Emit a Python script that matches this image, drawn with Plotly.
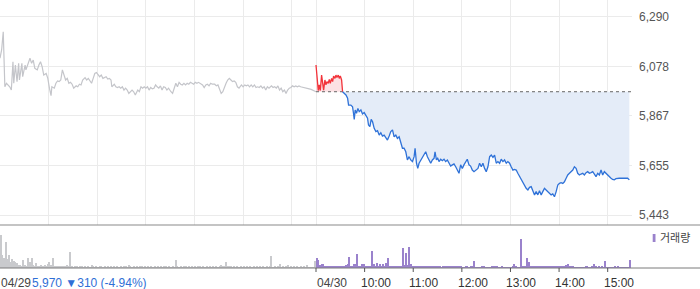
import numpy as np
import plotly.graph_objects as go

# ---------------- data ----------------
PREV_CLOSE = 5970
Y_TICK_VALS = [5443, 5655, 5867, 6078, 6290]
Y_TICK_TEXT = ["5,443", "5,655", "5,867", "6,078", "6,290"]
HOUR_LABELS = ["10:00", "11:00", "12:00", "13:00", "14:00", "15:00"]
DATE_LABELS = ["04/29", "04/30"]
SUMMARY = "5,970 \u25bc310 (-4.94%)"
LEGEND_TEXT = "거래량"

# 04/29 intraday (minutes after 09:00, price)
d1_min = [0, 2, 4, 6, 8, 10, 12, 14, 16, 17, 19, 21, 23, 24, 27, 28, 31, 32, 35, 37,
          39, 41, 43, 46, 48, 50, 52, 54, 57, 59, 61, 63, 64, 67, 69, 71, 73, 75, 77, 79,
          81, 83, 85, 87, 89, 91, 94, 96, 98, 100, 102, 105, 107, 109, 111, 113, 115, 117, 119, 121,
          123, 125, 127, 131, 133, 135,
          137, 138, 141, 143, 145, 147, 149, 151, 153, 155, 157, 159, 161, 163, 165, 167, 170, 172,
          174, 176, 178, 180, 182, 184, 186, 188, 190, 192, 194, 196, 198, 200, 202, 204, 206, 208,
          211, 213, 215, 217, 219, 221, 223, 225, 227, 229, 231, 233, 235, 237, 239, 241, 243, 245,
          247, 250, 252, 254, 256, 258, 260, 262,
          265, 267, 269, 271, 273, 275, 277, 279, 281, 283, 285, 287, 289, 291, 293, 295, 298, 300,
          302, 304, 306, 308, 310, 312, 314, 316, 318, 320, 322, 324, 326, 328, 330, 332, 335, 337,
          339, 341, 343, 345, 347, 349, 351, 353, 355, 357, 359, 361, 363, 365, 367, 369, 371, 374,
          376, 378, 380, 382, 384, 390]
d1_price = [6113, 6148, 6226, 5991, 6006, 5999, 5991, 5977, 6098, 6006, 6084, 6013, 6091, 6020, 6091, 6034, 6084, 6063, 6091, 6113,
            6091, 6105, 6070, 6063, 6084, 6098, 6077, 6041, 6048, 6027, 5985, 5953, 5991, 5985, 6006, 6016, 6013, 6020, 6063, 6041,
            6020, 6027, 6006, 6010, 6002, 5985, 5995, 5991, 6002, 5999, 6020, 6030, 6020, 6027, 6013, 6006, 6027, 6048, 6052, 6045,
            6034, 6041, 6027, 6034, 6024, 6027,
            6020, 5991, 6002, 5991, 5988, 5991, 5985, 5991, 5977, 5985, 5977, 5963, 5970, 5977, 5970, 5956, 5977, 5970,
            5991, 5985, 5991, 5985, 5991, 5977, 5988, 5982, 5985, 5999, 5991, 5985, 5995, 5977, 5991, 5988, 5977, 5985,
            5970, 5963, 5985, 6006, 5991, 6010, 6002, 5999, 6006, 5999, 6006, 6002, 6010, 6006, 6002, 6010, 6006, 6010,
            6006, 5999, 5988, 5999, 6002, 5995, 6006, 6002,
            6002, 5995, 5999, 5977, 5963, 5970, 5991, 6006, 6020, 6027, 6020, 6013, 6016, 6010, 5991, 5985, 5999, 5991,
            5999, 5995, 5999, 5991, 5999, 5991, 5999, 5988, 5991, 5988, 5995, 5985, 5991, 5977, 5991, 5985, 5995, 5988,
            5991, 5985, 5995, 5977, 5985, 5970, 5977, 5963, 5977, 5985, 5988, 5995, 5991, 5995, 5991, 5995, 5991, 5988,
            5985, 5985, 5982, 5982, 5980, 5970]

# 04/30 intraday (minutes after 09:00, price)
d2_min = [0, 0.8, 2.8, 4, 5.3, 6.9, 8.2, 9.4, 11, 12.3, 13.5, 15.1, 16.4, 17.6, 19.3, 20.5, 21.7, 23.4, 24.6, 25.8,
          27.5, 28.7, 30, 31.6, 32.8, 34.9, 37, 39, 40.2, 43, 45.1, 46.3, 47.2, 48.4, 50, 51.7, 53.3, 55.4, 57.4, 59.5,
          61.5, 63.6, 64.8, 66.5, 68.1, 69.8, 71.8, 73.9, 75.9, 78, 80, 82, 84.1, 86.2, 88.2, 90.3, 92.3, 94.4, 96.4, 98.5,
          100.5, 102.6, 104.6, 106.7, 108.7, 110.8, 112.8, 114.9, 116.9, 119, 121.1, 122.3, 124, 125.6, 127.2, 129.3,
          131.3, 133.4, 135.4, 137.5, 139.5, 141.6, 143.6, 145.7, 146.9, 148.6, 150.2, 151.8, 153.9, 155.9, 158, 160,
          162.1, 164.2, 166.2, 168.3, 170.3, 172.4, 174.4, 176.5, 178.5, 180.6, 182.6, 184.7, 186.7, 188.8, 190.8,
          192.9, 195, 199.9, 201.9, 204, 206, 208.1, 210.1, 212.2, 214.3, 216.3, 218.4, 220.4, 222.5, 224.5, 226.6,
          228.6, 230.7, 232.7, 234.8, 236.8, 238.9, 240.9, 243, 245, 247.1, 249.1, 251.2, 253.2, 255.3, 257.4, 259.4,
          261.5, 263.5, 265.6, 267.6, 269.7, 271.7, 273.8, 275.8, 277.9, 279.9, 282, 284, 286.1, 288.1, 290.2, 292.2,
          294.3, 296.4, 298.4, 300.5, 302.5, 304.6, 306.6, 308.7, 310.7, 312.8, 314.8, 316.9, 318.9, 321, 323, 325.1,
          327.1, 329.2, 331.2, 333.3, 335.3, 337.4, 339.5, 341.5, 343.6, 345.6, 347.7, 349.7, 351.8, 353.8, 355.9,
          357.9, 360, 362, 364.1, 366.1, 368.2, 370.2, 372.3, 374.3, 376.4, 378.5, 380.5, 382.6, 384.6, 386.7]
d2_price = [6084, 6041, 5975, 5999, 5975, 6041, 5992, 5977, 6020, 5999, 6013, 6006, 6023, 6006, 6027, 6013, 6037, 6027, 6041, 6031,
            6041, 6027, 6037, 6020, 5970, 5963, 5956, 5942, 5913, 5913, 5906, 5878, 5852, 5892, 5878, 5899, 5885, 5892, 5875, 5881,
            5871, 5857, 5828, 5821, 5852, 5842, 5814, 5800, 5804, 5785, 5795, 5781, 5785, 5771, 5764, 5781, 5800, 5807, 5778, 5785,
            5771, 5778, 5757, 5729, 5729, 5714, 5679, 5693, 5679, 5672, 5693, 5729, 5665, 5643, 5665, 5679,
            5690, 5700, 5714, 5693, 5679, 5665, 5679, 5686, 5714, 5679, 5686, 5672, 5682, 5676, 5682, 5672,
            5679, 5665, 5653, 5658, 5662, 5650, 5636, 5622, 5658, 5643, 5658, 5672, 5682, 5658, 5653,
            5636, 5629, 5643, 5665, 5650, 5665, 5643, 5629, 5650, 5693, 5700, 5690, 5700, 5665, 5672, 5665,
            5682, 5672, 5679, 5665, 5672, 5665, 5650, 5636, 5639, 5636, 5622, 5608, 5601, 5586, 5572, 5558,
            5551, 5562, 5565, 5548, 5530, 5544, 5530, 5548, 5530, 5544, 5558, 5551, 5544, 5537, 5530, 5534,
            5522, 5544, 5572, 5579, 5582, 5579, 5586, 5601, 5615, 5622, 5629, 5636, 5650, 5643, 5622, 5615,
            5619, 5622, 5615, 5625, 5629, 5622, 5625, 5629, 5619, 5608, 5622, 5615, 5636, 5615, 5629,
            5622, 5611, 5608, 5601, 5596, 5594, 5599, 5601, 5601, 5601, 5601, 5601, 5601, 5601, 5594]

# volume per 2-minute bucket (thousand shares)
vol1 = [36.7, 15, 11.7, 29, 10, 15, 6.7, 10, 8, 7, 6, 3, 3, 2.5, 9, 3, 2.5, 10.7, 7, 10.7,
        3, 2, 5.7, 2, 1.5, 3, 2, 3, 2, 4, 6.7, 3, 11.7, 2.5, 1.5, 2.5, 1.5, 2, 2, 2.5,
        2, 3, 2.5, 18.3, 1.5, 1, 2, 1.5, 1, 2.5, 1.5, 1, 1.5, 1, 1.5, 1, 3, 2.5, 1, 1.5,
        1, 1.5, 2, 1, 1.5, 1, 1.5, 1, 2, 1, 1.5, 1, 1.5, 1, 1.5, 1, 1.5, 2, 1, 3,
        1.5, 1, 1.5, 1, 1.5, 1, 1.5, 2, 1, 1.5, 1, 1.5, 1, 1.5, 1, 2.5, 1, 1.5, 1, 1.5,
        1, 1.5, 2, 1, 1.5, 1, 1.5, 1, 9, 1.5, 1, 1.5, 1, 2, 1.5, 1, 1.5, 1, 1.5, 1,
        1.5, 1, 1.5, 2, 1, 1.5, 1, 1.5, 1, 1.5, 1, 1.5, 1, 1.5, 1, 2, 3, 1.5, 2, 6.7,
        1.5, 2, 2.5, 1, 1.5, 1, 2, 1, 1.5, 1, 1.5, 1, 1.5, 1, 2, 1, 1.5, 1, 1.5, 1,
        1.5, 1, 1.5, 1, 1.5, 1, 1.5, 13.3, 1, 1.5, 1, 1.5, 5, 1, 1.5, 1, 1.5, 3, 1, 1.5,
        1, 1.5, 1, 1.5, 1, 1.5, 1, 1.5, 1, 3, 1, 1, 1, 1, 7.7]
vol2 = [11.7, 9, 3, 4, 5, 2, 1.5, 2, 1.5, 2, 1.5, 2, 1.5, 2, 1.5, 2, 2.7, 1.5, 3.3, 4,
        12.7, 2, 2.7, 5, 4.3, 16, 1.5, 1.5, 4, 5, 1.5, 1.5, 2.7, 1.5, 19, 4, 1.5, 6, 1.5, 4,
        1.5, 4, 2.7, 6, 11, 2.7, 1.5, 1.3, 1.3, 1.3, 1.3, 2.7, 1.5, 23, 3.3, 17, 3.3, 24, 4, 1.7,
        2, 2, 1.7, 1.3, 1.3, 1.3, 1.3, 1.3, 1.3, 2.7, 1.7, 1.3, 1.3, 1.3, 1.3, 2.7, 1.3, 1, 1.3, 1.3,
        1.3, 1.3, 2.3, 1.3, 1.3, 1.3, 2.3, 2.7, 1.3, 1.7, 1, 1, 1.3, 1.3, 1, 1.3, 2.7, 8, 1, 1,
        1, 1, 1.7, 1.7, 1, 1, 1, 1, 1.7, 1.3, 2.7, 2.3, 1, 1, 1.3, 1, 1, 1, 1, 1,
        1, 2.7, 5, 2.3, 1, 1, 32.7, 1.7, 1.7, 1.7, 10.7, 7.3, 2.7, 1.7, 1.7, 1.7, 1.7, 2.3, 1.7, 1.7,
        1.7, 1.7, 1.7, 1.7, 1.3, 1.3, 1.3, 2.3, 1.3, 1.3, 1.3, 1.3, 2.3, 1.3, 3.3, 4, 2.3, 1.7, 1.7, 1,
        1, 1, 1, 1, 1, 1, 1.3, 1.3, 1, 1, 1.7, 5, 1.7, 1, 1.3, 1, 2.3, 1, 8, 1,
        1, 1, 1, 1, 1.3, 1, 1.3, 1, 1, 0.5, 0.5, 0.5, 0.5, 9]

# ---------------- layout geometry ----------------
W, H = 700, 289
SESSION = 390                      # minutes per session (09:00-15:30)
X_END = 2 * SESSION
PLOT_RIGHT_PX = 632
PRICE_TOP_PX, PRICE_BOT_PX = 0, 225
VOL_TOP_PX, VOL_BOT_PX = 225, 268
LABEL_Y_PX = 283

def py(px):
    return (H - px) / H

x_dom = [0, PLOT_RIGHT_PX / W]
price_dom = [py(PRICE_BOT_PX), py(PRICE_TOP_PX)]
vol_dom = [py(VOL_BOT_PX), py(VOL_TOP_PX)]

GRID = "#ebebeb"
GRAY_LINE = "#c4c5ca"
RED = "#f2333a"
BLUE = "#2f72d8"
PINK_FILL = "rgba(250,200,205,0.55)"
BLUE_FILL = "#e4ecf8"
GRAY_BAR = "#c9cacd"
PURPLE_BAR = "#9a82cc"
FONT = "Liberation Sans, Arial, Noto Sans CJK KR, sans-serif"

d1x = np.array(d1_min, dtype=float)
d1y = np.array(d1_price, dtype=float)
d2x = np.array(d2_min, dtype=float) + SESSION
d2y = np.array(d2_price, dtype=float)

# split day-2 line where it finally falls below the previous close
above = np.where(d2y >= PREV_CLOSE)[0]
split = int(above.max())

fig = go.Figure()

# fills
base = np.full_like(d2y, PREV_CLOSE)
fig.add_trace(go.Scatter(x=d2x, y=base, mode="lines", line=dict(width=0),
                         hoverinfo="skip", showlegend=False, xaxis="x", yaxis="y"))
fig.add_trace(go.Scatter(x=d2x, y=np.maximum(d2y, PREV_CLOSE), mode="lines",
                         line=dict(width=0), fill="tonexty", fillcolor=PINK_FILL,
                         hoverinfo="skip", showlegend=False, xaxis="x", yaxis="y"))
fig.add_trace(go.Scatter(x=d2x, y=base, mode="lines", line=dict(width=0),
                         hoverinfo="skip", showlegend=False, xaxis="x", yaxis="y"))
fig.add_trace(go.Scatter(x=d2x, y=np.minimum(d2y, PREV_CLOSE), mode="lines",
                         line=dict(width=0), fill="tonexty", fillcolor=BLUE_FILL,
                         hoverinfo="skip", showlegend=False, xaxis="x", yaxis="y"))

# previous close dotted line
fig.add_trace(go.Scatter(x=[SESSION, X_END], y=[PREV_CLOSE, PREV_CLOSE], mode="lines",
                         line=dict(color="#666666", width=1, dash="dot"),
                         hoverinfo="skip", showlegend=False, xaxis="x", yaxis="y"))

# price lines
fig.add_trace(go.Scatter(x=d1x, y=d1y, mode="lines", line=dict(color=GRAY_LINE, width=1.2),
                         showlegend=False, xaxis="x", yaxis="y"))
fig.add_trace(go.Scatter(x=d2x[:split + 1], y=d2y[:split + 1], mode="lines",
                         line=dict(color=RED, width=1.3), showlegend=False, xaxis="x", yaxis="y"))
fig.add_trace(go.Scatter(x=d2x[split:], y=d2y[split:], mode="lines",
                         line=dict(color=BLUE, width=1.3), showlegend=False, xaxis="x", yaxis="y"))

# volume bars
v1x = 1 + 2 * np.arange(len(vol1))
v2x = SESSION + 1 + 2 * np.arange(len(vol2))
fig.add_trace(go.Bar(x=v1x, y=vol1, width=1.3, marker=dict(color=GRAY_BAR, line=dict(width=0)),
                     showlegend=False, xaxis="x2", yaxis="y2"))
fig.add_trace(go.Bar(x=v2x, y=vol2, width=1.3, marker=dict(color=PURPLE_BAR, line=dict(width=0)),
                     showlegend=False, xaxis="x2", yaxis="y2"))

grid_x = [h * 60 for h in range(0, 7)] + [SESSION] + [SESSION + h * 60 for h in range(1, 7)]
vol_max = max(max(vol1), max(vol2))

fig.update_layout(
    width=W, height=H,
    margin=dict(l=0, r=0, t=0, b=0),
    paper_bgcolor="white", plot_bgcolor="white",
    bargap=0,
    font=dict(family=FONT, size=12, color="#555555"),
    xaxis=dict(domain=x_dom, range=[0, X_END], anchor="y",
               tickmode="array", tickvals=grid_x, showticklabels=False,
               showgrid=True, gridcolor=GRID, gridwidth=1,
               zeroline=False, showline=False, ticks=""),
    yaxis=dict(domain=price_dom, range=[5401.6, 6361.2], side="right", anchor="x",
               tickmode="array", tickvals=Y_TICK_VALS, ticktext=Y_TICK_TEXT,
               showgrid=True, gridcolor=GRID, gridwidth=1,
               zeroline=False, showline=False, ticks="",
               ticklabelstandoff=6,
               tickfont=dict(size=12, color="#555555", family=FONT)),
    xaxis2=dict(domain=x_dom, range=[0, X_END], anchor="y2",
                showticklabels=False, showgrid=False, zeroline=False,
                showline=False, ticks=""),
    yaxis2=dict(domain=vol_dom, range=[0, vol_max * 43 / 32.7], anchor="x2",
                visible=False),
)

shapes = []
# panel separator and volume baseline (full width)
shapes.append(dict(type="line", xref="paper", yref="paper", x0=0, x1=1,
                   y0=py(PRICE_BOT_PX), y1=py(PRICE_BOT_PX),
                   line=dict(color="#8a8a8a", width=1.2)))
shapes.append(dict(type="line", xref="paper", yref="paper", x0=0, x1=1,
                   y0=py(VOL_BOT_PX), y1=py(VOL_BOT_PX),
                   line=dict(color="#7a7a7a", width=1)))
# tick marks on day 2
for t in [SESSION + h * 60 for h in range(0, 7)]:
    shapes.append(dict(type="line", xref="x2", yref="paper", x0=t, x1=t,
                       y0=py(VOL_BOT_PX), y1=py(VOL_BOT_PX + 4),
                       line=dict(color="#555555", width=1)))
# legend marker
shapes.append(dict(type="rect", xref="paper", yref="paper",
                   x0=652.7 / W, x1=655.5 / W, y0=py(242), y1=py(234),
                   fillcolor=PURPLE_BAR, line=dict(width=0)))
fig.update_layout(shapes=shapes)

ann = []
ann.append(dict(x=0, y=py(LABEL_Y_PX), xref="x2", yref="paper", text=DATE_LABELS[0],
                showarrow=False, xanchor="left", yanchor="middle", xshift=-1,
                font=dict(size=12, color="#444444", family=FONT)))
ann.append(dict(x=30 / W, y=py(LABEL_Y_PX), xref="paper", yref="paper", text=SUMMARY,
                showarrow=False, xanchor="left", yanchor="middle",
                font=dict(size=12, color="#2f6fd6", family=FONT)))
ann.append(dict(x=SESSION, y=py(LABEL_Y_PX), xref="x2", yref="paper", text=DATE_LABELS[1],
                showarrow=False, xanchor="left", yanchor="middle", xshift=-1,
                font=dict(size=12, color="#444444", family=FONT)))
for i, lab in enumerate(HOUR_LABELS):
    ann.append(dict(x=SESSION + (i + 1) * 60, y=py(LABEL_Y_PX), xref="x2", yref="paper",
                    text=lab, showarrow=False, xanchor="left", yanchor="middle", xshift=-6,
                    font=dict(size=12, color="#333333", family=FONT)))
ann.append(dict(x=658 / W, y=py(238), xref="paper", yref="paper", text=LEGEND_TEXT,
                showarrow=False, xanchor="left", yanchor="middle",
                font=dict(size=11, color="#444444", family=FONT)))
fig.update_layout(annotations=ann)

fig.write_html("out.html")
